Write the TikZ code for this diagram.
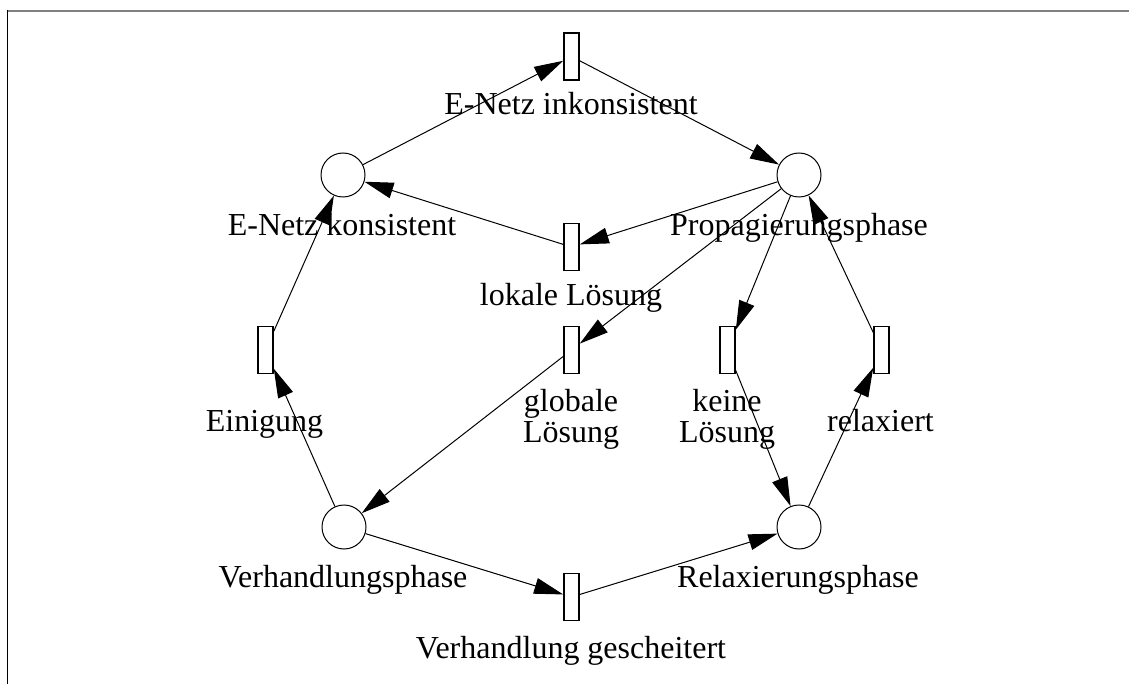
\documentclass[tikz,border=0pt]{standalone}
\usepackage{fontspec}
\setmainfont{Liberation Serif}
\usetikzlibrary{arrows.meta}
\begin{document}
\begin{tikzpicture}[x=1pt,y=-1pt,
  place/.style={circle,draw,line width=1pt,minimum size=44pt,inner sep=0pt},
  trans/.style={rectangle,draw,line width=1.6pt,minimum width=15pt,minimum height=47pt,inner sep=0pt},
  lab/.style={anchor=base,inner sep=0pt,align=center,font=\fontsize{32}{31}\selectfont},
  arc/.style={line width=1pt,-{Triangle[length=29pt,width=16pt]}}]
  \useasboundingbox (0,0) rectangle (1129,684);
  % frame
  \draw[line width=2pt,color=black!50] (7,11) -- (1129,11);
  \draw[line width=1.4pt] (7.5,10) -- (7.5,684);

  % places
  \node[place] (kons)  at (343,175) {};
  \node[place] (prop)  at (799,175) {};
  \node[place] (verh)  at (344,527) {};
  \node[place] (relax) at (799,527) {};

  % transitions
  \node[trans] (inkons) at (571.5,56.5) {};
  \node[trans] (lokal)  at (571.5,247) {};
  \node[trans] (global) at (571.5,350) {};
  \node[trans] (einig)  at (265.5,350) {};
  \node[trans] (keine)  at (727.5,350) {};
  \node[trans] (relxd)  at (881.5,350) {};
  \node[trans] (gesch)  at (571.5,597) {};

  % labels (two-line labels are anchored at the baseline of their last line)
  \node[lab] (tInkons) at (571,115) {E-Netz inkonsistent};
  \node[lab] (tKons)   at (342,236) {E-Netz konsistent};
  \node[lab] (tProp)   at (799,236) {Propagierungsphase};
  \node[lab] (tLokal)  at (571,306) {lokale Lösung};
  \node[lab] (tGlobal) at (571,442) {globale\\Lösung};
  \node[lab] (tKeine)  at (727,442) {keine\\Lösung};
  \node[lab] (tEinig)  at (264.5,431) {Einigung};
  \node[lab] (tRelxd)  at (880.5,431) {relaxiert};
  \node[lab] (tVerh)   at (343,587) {Verhandlungsphase};
  \node[lab] (tRelax)  at (798,587) {Relaxierungsphase};
  \node[lab] (tGesch)  at (571,658) {Verhandlung gescheitert};

  % arcs
  \draw[arc] (kons) -- (inkons);
  \draw[arc] (inkons) -- (prop);
  \draw[arc] (prop) -- (lokal);
  \draw[arc] (lokal) -- (kons);
  \draw[arc] (prop) -- (global);
  \draw[arc] (global) -- (verh);
  \draw[arc] (prop) -- (keine);
  \draw[arc] (keine) -- (relax);
  \draw[arc] (relax) -- (relxd);
  \draw[arc] (relxd) -- (prop);
  \draw[arc] (verh) -- (einig);
  \draw[arc] (einig) -- (kons);
  \draw[arc] (verh) -- (gesch);
  \draw[arc] (gesch) -- (relax);
\end{tikzpicture}
\end{document}
